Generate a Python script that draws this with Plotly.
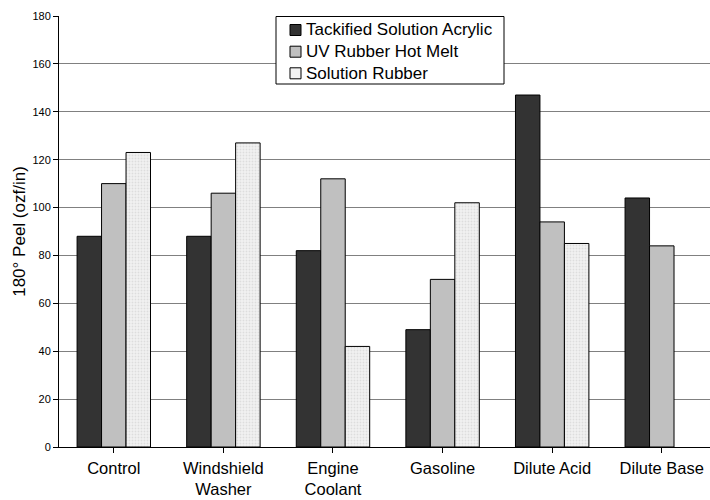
import plotly.graph_objects as go

categories = ["Control", "Windshield<br>Washer", "Engine<br>Coolant", "Gasoline", "Dilute Acid", "Dilute Base"]
series_names = ["Tackified Solution Acrylic", "UV Rubber Hot Melt", "Solution Rubber"]
tackified_acrylic = [88, 88, 82, 49, 147, 104]
uv_rubber_hot_melt = [110, 106, 112, 70, 94, 84]
solution_rubber = [123, 127, 42, 102, 85, None]
y_ticks = [0, 20, 40, 60, 80, 100, 120, 140, 160, 180]

fills = ["#333333", "#c0c0c0", "#f2f2f2"]

W, H = 710, 500
M_L, M_R, M_T, M_B = 59, 0, 16, 53
PLOT_W = W - M_L - M_R
PLOT_H = H - M_T - M_B


def px_x(px):
    return (px - M_L) / PLOT_W


def px_y(py):
    return (H - M_B - py) / PLOT_H


x = list(range(len(categories)))

fig = go.Figure()
for name, vals, fill in zip(series_names, [tackified_acrylic, uv_rubber_hot_melt, solution_rubber], fills):
    marker = dict(color=fill, line=dict(color="#000000", width=1))
    if name == "Solution Rubber":
        marker["pattern"] = dict(shape=".", fgcolor="#c8c8c8", bgcolor=fill, size=3, solidity=0.3)
    fig.add_trace(go.Bar(x=x, y=vals, name=name, marker=marker, showlegend=False))

# Boxed key in the upper middle of the plot
shapes = [dict(type="rect", xref="paper", yref="paper",
               x0=px_x(276), x1=px_x(504), y0=px_y(84), y1=px_y(16.5),
               fillcolor="white", line=dict(color="#000000", width=1), layer="above")]
annotations = []
row_y = [30, 51.7, 73.3]
for name, fill, ry in zip(series_names, fills, row_y):
    shapes.append(dict(type="rect", xref="paper", yref="paper",
                       x0=px_x(290), x1=px_x(301), y0=px_y(ry + 5.5), y1=px_y(ry - 5.5),
                       fillcolor=fill, line=dict(color="#000000", width=1), layer="above"))
    annotations.append(dict(text=name, xref="paper", yref="paper", x=px_x(304), y=px_y(ry),
                            xanchor="left", yanchor="middle", showarrow=False,
                            font=dict(size=17, color="#000000")))

fig.update_layout(
    width=W, height=H,
    barmode="group", bargap=0.33, bargroupgap=0,
    paper_bgcolor="white", plot_bgcolor="white",
    margin=dict(l=M_L, r=M_R, t=M_T, b=M_B),
    font=dict(family="Liberation Sans, Arial, sans-serif", color="#000000"),
    showlegend=False,
    shapes=shapes,
    annotations=annotations,
    xaxis=dict(
        tickmode="array", tickvals=x, ticktext=categories,
        range=[-0.5, 5.44], tickson="boundaries",
        ticks="outside", ticklen=5, tickcolor="#000000",
        showline=True, linecolor="#000000", linewidth=1,
        showgrid=False, tickfont=dict(size=16.5), zeroline=False,
        ticklabelstandoff=1, automargin=False,
    ),
    yaxis=dict(
        range=[0, 180], tickvals=y_ticks,
        ticks="outside", ticklen=5, tickcolor="#000000",
        showline=True, linecolor="#000000", linewidth=1,
        showgrid=True, gridcolor="#808080", gridwidth=1,
        zeroline=False, tickfont=dict(size=11), automargin=False,
        title=dict(text="180° Peel (ozf/in)", font=dict(size=17), standoff=2),
    ),
)

fig.write_html("out.html")
